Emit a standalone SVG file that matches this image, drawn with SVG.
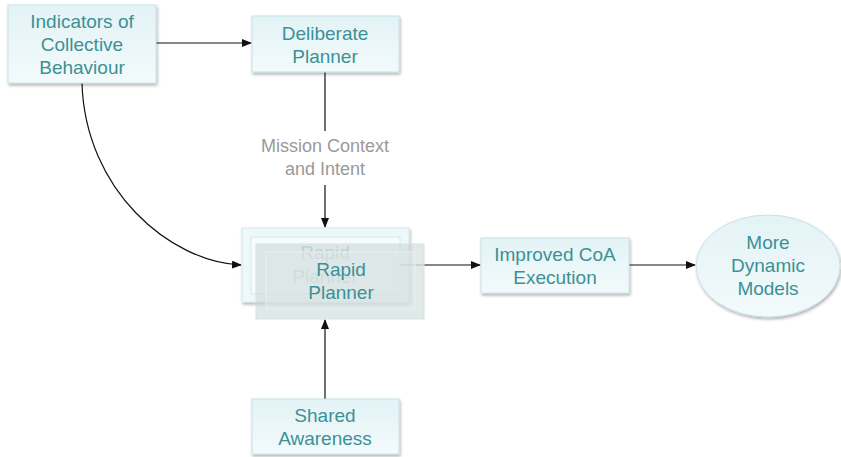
<svg xmlns="http://www.w3.org/2000/svg" width="841" height="457" viewBox="0 0 841 457">
<defs>
<linearGradient id="g" x1="0" y1="0" x2="0" y2="1">
<stop offset="0" stop-color="#e3f3f6"/>
<stop offset="1" stop-color="#f3fafb"/>
</linearGradient>
<filter id="sh" x="-10%" y="-10%" width="125%" height="130%">
<feDropShadow dx="1" dy="2" stdDeviation="1.5" flood-color="#000" flood-opacity="0.3"/>
</filter>
<marker id="ah" markerWidth="10" markerHeight="8" refX="9" refY="4" orient="auto" markerUnits="userSpaceOnUse">
<path d="M0,0 L10,4 L0,8 z" fill="#111"/>
</marker>
</defs>
<style>
.box{fill:url(#g);stroke:#c6e2e7;stroke-width:1;filter:url(#sh)}
.t{font-family:"Liberation Sans",Arial,sans-serif;font-size:19px;fill:#3b9196;text-anchor:middle}
.lbl{font-family:"Liberation Sans",Arial,sans-serif;font-size:18px;fill:#9a9a9a;text-anchor:middle}
.c{fill:none;stroke:#111;stroke-width:1.2}
</style>
<rect width="841" height="457" fill="#fff"/>
<g id="connectors">
<path class="c" d="M156,43 L251,43" marker-end="url(#ah)"/>
<path class="c" d="M325,72 L325,131"/>
<path class="c" d="M325,185 L325,227" marker-end="url(#ah)"/>
<path class="c" d="M82,83 C85,190 170,262 241,265" marker-end="url(#ah)"/>
<path class="c" d="M325,399 L325,320" marker-end="url(#ah)"/>
<path class="c" d="M424,265 L480,265" marker-end="url(#ah)"/>
<path class="c" d="M629,265 L695,265" marker-end="url(#ah)"/>
</g>
<g id="indicators">
<rect class="box" x="8" y="5" width="148" height="78"/>
<text class="t" x="82" y="28">Indicators of</text>
<text class="t" x="82" y="51">Collective</text>
<text class="t" x="82" y="74">Behaviour</text>
</g>
<g id="deliberate">
<rect class="box" x="252" y="16" width="147" height="56"/>
<text class="t" x="325" y="40">Deliberate</text>
<text class="t" x="325" y="63">Planner</text>
</g>
<g id="mission-label">
<text class="lbl" x="325" y="152">Mission Context</text>
<text class="lbl" x="325" y="175">and Intent</text>
</g>
<g id="rapid">
<rect x="242" y="228" width="167" height="74" fill="#eef8fa" stroke="#d3e9ec" filter="url(#sh)"/>
<rect x="251" y="237" width="149" height="57" fill="#f6fbfc" stroke="#d3e9ec"/>
<text class="t" x="325" y="259" style="fill:#a9cfd1">Rapid</text>
<text class="t" x="325" y="283" style="fill:#a9cfd1">Planner</text>
<path d="M400,265 L424,265" stroke="#999" stroke-width="1"/>
<rect x="256" y="244" width="168" height="75" fill="#c9d6d6" fill-opacity="0.55" stroke="#d6e2e2"/>
<rect x="266" y="252" width="149" height="57" fill="#dfe7e7" fill-opacity="0.5" stroke="#e8f0f0"/>
<text class="t" x="341" y="276">Rapid</text>
<text class="t" x="341" y="299">Planner</text>
</g>
<g id="improved">
<rect class="box" x="481" y="238" width="148" height="55"/>
<text class="t" x="555" y="261">Improved CoA</text>
<text class="t" x="555" y="284">Execution</text>
</g>
<g id="models">
<ellipse class="box" cx="768" cy="266" rx="72" ry="51"/>
<text class="t" x="768" y="249">More</text>
<text class="t" x="768" y="272">Dynamic</text>
<text class="t" x="768" y="295">Models</text>
</g>
<g id="shared">
<rect class="box" x="252" y="399" width="147" height="55"/>
<text class="t" x="325" y="422">Shared</text>
<text class="t" x="325" y="445">Awareness</text>
</g>
</svg>
